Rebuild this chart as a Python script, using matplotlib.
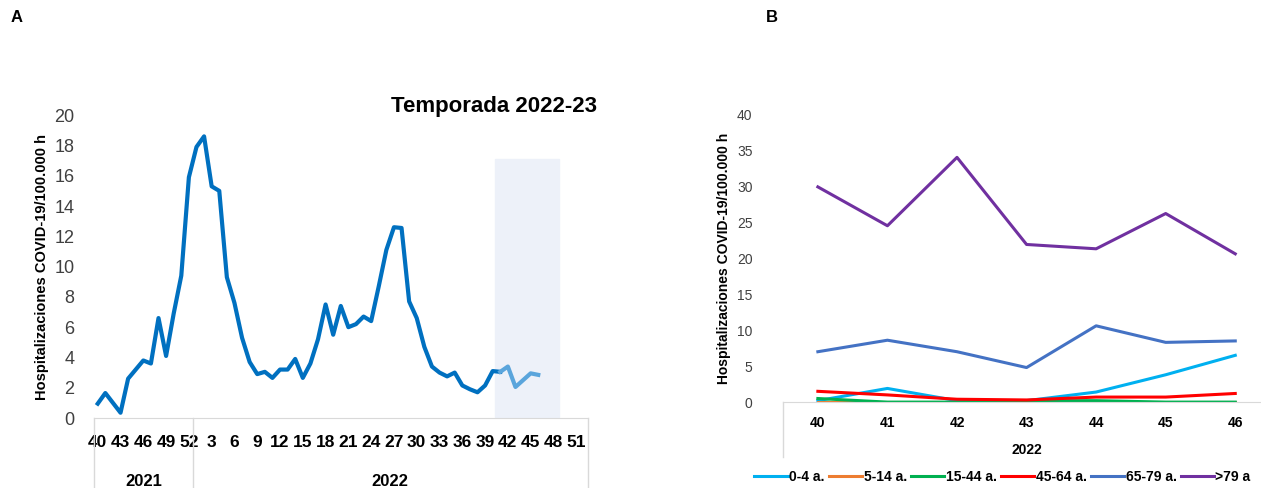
import numpy as np
import matplotlib

matplotlib.use("Agg")
import matplotlib.pyplot as plt

plt.rcParams["font.family"] = ["Liberation Sans", "DejaVu Sans"]

# Panel A: weekly rate, 2021 wk40-52 then 2022 wk1-46
weeks_2021 = list(range(40, 53))
weeks_2022 = list(range(1, 53))
rate_2021 = [0.95, 1.65, 1.0, 0.35, 2.6, 3.2, 3.8, 3.6, 6.6, 4.1, 6.9, 9.4, 15.9]
rate_2022 = [17.9, 18.6, 15.3, 15.0, 9.3, 7.6, 5.3, 3.7, 2.9, 3.05, 2.65, 3.2, 3.2, 3.9,
             2.65, 3.6, 5.2, 7.5, 5.5, 7.4, 6.0, 6.2, 6.7, 6.4, 8.7, 11.1, 12.6, 12.55,
             7.7, 6.6, 4.7, 3.4, 3.0, 2.75, 3.0, 2.15, 1.9, 1.7, 2.15, 3.1, 3.05]
season_weeks = [41, 42, 43, 44, 45, 46]
season_rate = [3.05, 3.4, 2.05, 2.5, 2.95, 2.85]

# Panel B: by age group, 2022 wk40-46
weeks_b = ["40", "41", "42", "43", "44", "45", "46"]
groups = ["0-4 a.", "5-14 a.", "15-44 a.", "45-64 a.", "65-79 a.", ">79 a"]
group_colors = ["#00b0f0", "#ed7d31", "#00b050", "#ff0000", "#4472c4", "#7030a0"]
group_values = [
    [0.2, 1.9, 0.2, 0.2, 1.4, 3.8, 6.5],
    [0, 0, 0, 0, 0, 0, 0],
    [0.5, 0, 0, 0.2, 0.2, 0, 0],
    [1.5, 1.0, 0.4, 0.3, 0.7, 0.7, 1.2],
    [7.0, 8.6, 7.0, 4.8, 10.6, 8.3, 8.5],
    [29.9, 24.5, 34.0, 21.9, 21.3, 26.2, 20.6],
]

fig = plt.figure(figsize=(12.61, 4.88), dpi=100)
fig.text(0.008, 0.955, "A", fontsize=12, fontweight="bold")
fig.text(0.607, 0.955, "B", fontsize=12, fontweight="bold")

# ---- Panel A
ax = fig.add_axes([0.0745, 0.1434, 0.3915, 0.6206])
labels_a = weeks_2021 + weeks_2022
n21 = len(weeks_2021)
x_main = np.arange(n21 + len(rate_2022))
ax.plot(x_main, rate_2021 + rate_2022, color="#0070c0", lw=3, solid_joinstyle="round")
x_season = [n21 + w - 1 for w in season_weeks]
ax.plot(x_season, season_rate, color="#5aa5dc", lw=3)
ax.axvspan(n21 + 39.3, n21 + 47.7, ymax=17.1 / 20, color="#edf1f9", zorder=0)
ax.set_xlim(-0.5, len(labels_a) - 0.5)
ax.set_ylim(0, 20)
ax.set_yticks(range(0, 21, 2))
ax.tick_params(axis="y", length=0, labelsize=13, colors="#404040", pad=14)
ticks = list(range(0, len(labels_a), 3))
ax.set_xticks(ticks, [str(labels_a[i]) for i in ticks], fontweight="bold")
ax.tick_params(axis="x", length=0, labelsize=12.5, pad=12)
for s in ["top", "right", "left"]:
    ax.spines[s].set_visible(False)
ax.spines["bottom"].set_color("#d9d9d9")
ax.set_ylabel("Hospitalizaciones COVID-19/100.000 h", fontsize=10.5, fontweight="bold")
for xv in [-0.5, n21 - 0.5, len(labels_a) - 0.5]:
    ax.plot([xv, xv], [0, -0.26], transform=ax.get_xaxis_transform(),
            color="#d9d9d9", lw=1, clip_on=False)
ax.text((n21 - 1) / 2, -0.21, "2021", transform=ax.get_xaxis_transform(),
        ha="center", va="center", fontsize=12, fontweight="bold")
ax.text(n21 + 25.5, -0.21, "2022", transform=ax.get_xaxis_transform(),
        ha="center", va="center", fontsize=12, fontweight="bold")
ax.text(1.02, 1.03, "Temporada 2022-23", transform=ax.transAxes, ha="right",
        va="center", fontsize=16, fontweight="bold")

# ---- Panel B
bx = fig.add_axes([0.621, 0.176, 0.379, 0.59])
xb = np.arange(len(weeks_b))
for name, col, vals in zip(groups, group_colors, group_values):
    bx.plot(xb, vals, color=col, lw=2.2, label=name)
bx.set_xlim(-0.5, 6.37)
bx.set_ylim(0, 40)
bx.set_yticks(range(0, 41, 5))
bx.tick_params(axis="y", length=0, labelsize=10, colors="#404040", pad=22)
bx.set_xticks(xb, weeks_b, fontweight="bold")
bx.tick_params(axis="x", length=0, labelsize=10, pad=10)
for s in ["top", "right", "left"]:
    bx.spines[s].set_visible(False)
bx.spines["bottom"].set_color("#d9d9d9")
bx.set_ylabel("Hospitalizaciones COVID-19/100.000 h", fontsize=10, fontweight="bold")
bx.plot([-0.5, -0.5], [0, -0.19], transform=bx.get_xaxis_transform(),
        color="#d9d9d9", lw=1, clip_on=False)
bx.text(3, -0.165, "2022", transform=bx.get_xaxis_transform(), ha="center",
        va="center", fontsize=10, fontweight="bold")
fig.legend(*bx.get_legend_handles_labels(), loc="lower center",
           bbox_to_anchor=(0.795, -0.012), ncol=6, frameon=False,
           handlelength=2.4, columnspacing=0.3, handletextpad=0.1, borderpad=0.2,
           prop={"weight": "bold", "size": 10})

fig.savefig("out.png", dpi=100)
